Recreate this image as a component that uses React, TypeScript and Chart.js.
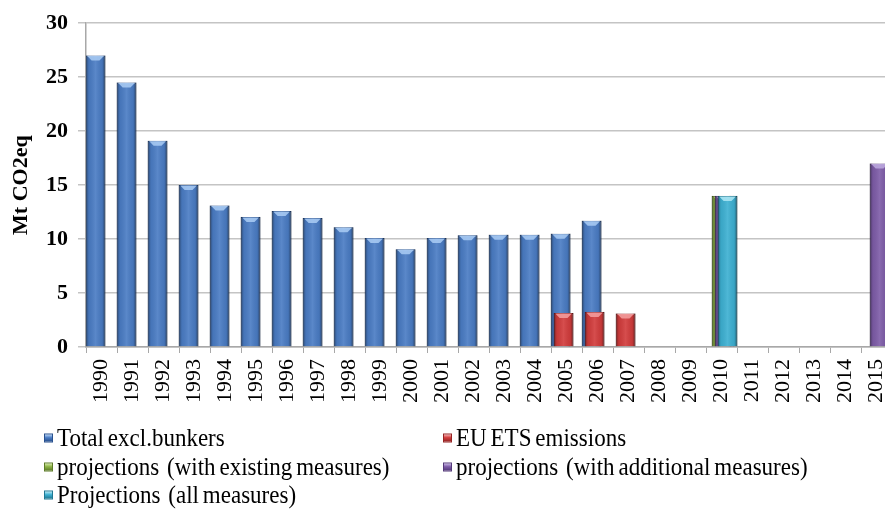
import React, { useEffect, useRef } from "react";
import { Chart, registerables } from "chart.js";

Chart.register(...registerables);

// Years on the category axis
const years = [
  "1990", "1991", "1992", "1993", "1994", "1995", "1996", "1997", "1998",
  "1999", "2000", "2001", "2002", "2003", "2004", "2005", "2006", "2007",
  "2008", "2009", "2010", "2011", "2012", "2013", "2014", "2015",
];

// Mt CO2eq per year
const totalExclBunkers = [
  27, 24.5, 19.1, 15, 13.1, 12.05, 12.6, 11.95, 11.1, 10.1, 9.05, 10.1,
  10.35, 10.4, 10.4, 10.5, 11.7, null, null, null, null, null, null, null,
  null, null,
];
const euEtsEmissions = [
  null, null, null, null, null, null, null, null, null, null, null, null,
  null, null, null, 3.15, 3.25, 3.1, null, null, null, null, null, null,
  null, null,
];
const projectionsExisting = [
  null, null, null, null, null, null, null, null, null, null, null, null,
  null, null, null, null, null, null, null, null, 14, null, null, null,
  null, null,
];
const projectionsAdditional = [
  null, null, null, null, null, null, null, null, null, null, null, null,
  null, null, null, null, null, null, null, null, 14, null, null, null,
  null, 17,
];
const projectionsAll = [
  null, null, null, null, null, null, null, null, null, null, null, null,
  null, null, null, null, null, null, null, null, 14, null, null, null,
  null, null,
];

const seriesNames = [
  "Total excl.bunkers",
  "EU ETS emissions",
  "projections  (with existing measures)",
  "projections  (with additional measures)",
  "Projections  (all measures)",
];
const seriesValues = [
  totalExclBunkers,
  euEtsEmissions,
  projectionsExisting,
  projectionsAdditional,
  projectionsAll,
];

const fillColors = ["#4a7cc4", "#d23c3c", "#8db346", "#7e5ca8", "#3db0d2"];
const edgeColors = ["#28508e", "#962424", "#5d7c27", "#54397a", "#1f7893"];
const capColors = [
  "rgba(170,205,245,0.85)",
  "rgba(245,160,160,0.85)",
  "rgba(205,230,150,0.85)",
  "rgba(190,170,225,0.85)",
  "rgba(175,232,245,0.85)",
];

const serif = "'Liberation Serif', 'Times New Roman', serif";

// Draws the datasets in index order so later series overlap earlier ones,
// then adds the side shading and bevelled top on every bar.
const barShading = {
  id: "barShading",
  beforeDatasetsDraw(chart: any) {
    const { ctx, chartArea } = chart;
    ctx.save();
    ctx.beginPath();
    ctx.rect(
      chartArea.left,
      chartArea.top - 2,
      chartArea.right - chartArea.left,
      chartArea.bottom - chartArea.top + 2
    );
    ctx.clip();
    chart.data.datasets.forEach((ds: any, i: number) => {
      const meta = chart.getDatasetMeta(i);
      if (!meta.visible) return;
      meta.controller.draw();
      meta.data.forEach((el: any, j: number) => {
        if (ds.data[j] == null) return;
        const { x, y, base, width } = el.getProps(["x", "y", "base", "width"], true);
        const left = x - width / 2;
        const right = x + width / 2;
        const g = ctx.createLinearGradient(left, 0, right, 0);
        g.addColorStop(0, "rgba(0,0,0,0.42)");
        g.addColorStop(0.16, "rgba(0,0,0,0.06)");
        g.addColorStop(0.5, "rgba(255,255,255,0.09)");
        g.addColorStop(0.84, "rgba(0,0,0,0.06)");
        g.addColorStop(1, "rgba(0,0,0,0.47)");
        ctx.fillStyle = g;
        ctx.fillRect(left, y, width, base - y);
        ctx.fillStyle = capColors[i];
        ctx.beginPath();
        ctx.moveTo(left + 1.5, y + 0.5);
        ctx.lineTo(right - 1.5, y + 0.5);
        ctx.lineTo(x + width * 0.2, y + 5);
        ctx.lineTo(x - width * 0.2, y + 5);
        ctx.closePath();
        ctx.fill();
      });
    });
    ctx.restore();
    return false;
  },
};

function LegendMarker({ index }: { index: number }) {
  return (
    <span
      style={{
        position: "absolute",
        left: 0,
        top: "50%",
        width: 9,
        height: 9,
        marginTop: -4,
        boxSizing: "border-box",
        border: `1px solid ${edgeColors[index]}`,
        background: `linear-gradient(180deg, ${capColors[index]} 0%, ${fillColors[index]} 45%, ${edgeColors[index]} 100%)`,
      }}
    />
  );
}

export default function App() {
  const canvasRef = useRef<HTMLCanvasElement | null>(null);

  useEffect(() => {
    if (!canvasRef.current) return;
    const chart = new Chart(canvasRef.current, {
      type: "bar",
      data: {
        labels: years,
        datasets: seriesValues.map((values, i) => ({
          label: seriesNames[i],
          data: values,
          backgroundColor: fillColors[i],
          borderColor: edgeColors[i],
          borderWidth: 1,
          categoryPercentage: 0.48,
          barPercentage: 6.6,
        })),
      },
      options: {
        animation: false,
        responsive: true,
        maintainAspectRatio: false,
        layout: { padding: { top: 22, left: 0, right: 0, bottom: 0 } },
        plugins: {
          legend: { display: false },
          tooltip: { enabled: false },
        },
        scales: {
          x: {
            afterFit: (scale: any) => {
              scale.height = 173;
            },
            grid: {
              display: true,
              drawOnChartArea: false,
              drawTicks: true,
              tickLength: 6,
              color: "#a8a8a8",
              offset: true,
            },
            border: { display: true, color: "#a8a8a8", width: 1.5 },
            ticks: {
              autoSkip: false,
              minRotation: 90,
              maxRotation: 90,
              padding: 6,
              color: "#000",
              font: { family: serif, size: 22 },
            },
          },
          y: {
            min: 0,
            max: 30,
            afterFit: (scale: any) => {
              scale.width = 86;
            },
            grid: {
              color: "#c4c4c4",
              lineWidth: 1.5,
              tickLength: 8,
            },
            border: { display: true, color: "#a8a8a8", width: 1.5 },
            ticks: {
              stepSize: 5,
              padding: 10,
              color: "#000",
              font: { family: serif, size: 22, weight: "bold" },
            },
            title: {
              display: true,
              text: "Mt CO2eq",
              color: "#000",
              padding: { top: 8, bottom: 0 },
              font: { family: serif, size: 22, weight: "bold" },
            },
          },
        },
      },
      plugins: [barShading],
    });
    return () => chart.destroy();
  }, []);

  const slots = [
    { left: 44, top: 437 },
    { left: 443, top: 437 },
    { left: 44, top: 466 },
    { left: 443, top: 466 },
    { left: 44, top: 494 },
  ];

  return (
    <div
      style={{
        position: "absolute",
        left: 0,
        top: 0,
        width: 885,
        height: 520,
        overflow: "hidden",
        background: "#fff",
      }}
    >
      <div style={{ position: "absolute", left: 0, top: 0, width: 909, height: 520 }}>
        <canvas ref={canvasRef} />
      </div>
      {seriesNames.map((name, i) => (
        <div
          key={name}
          style={{
            position: "absolute",
            left: slots[i].left,
            top: slots[i].top,
            transform: "translateY(-50%)",
            paddingLeft: 13,
            fontFamily: serif,
            fontSize: 25,
            lineHeight: "27px",
            color: "#000",
            whiteSpace: "pre",
          }}
        >
          <LegendMarker index={i} />
          <span
            style={{
              display: "inline-block",
              transform: "scaleX(0.92)",
              transformOrigin: "left center",
              wordSpacing: -2,
            }}
          >
            {name}
          </span>
        </div>
      ))}
    </div>
  );
}
